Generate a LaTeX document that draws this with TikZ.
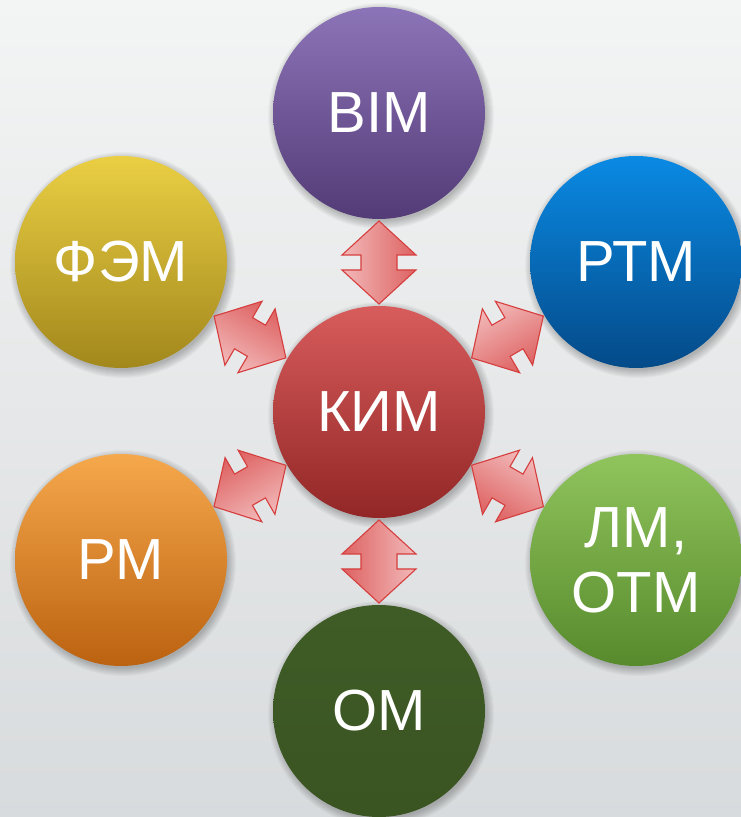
\documentclass[tikz,border=0pt]{standalone}
\usepackage{fontspec}
\setmainfont{Liberation Sans}
\usetikzlibrary{calc}

\definecolor{bgtop}{HTML}{F3F4F4}
\definecolor{bgbot}{HTML}{D8DBDD}
\definecolor{arrowlight}{HTML}{F2B9B9}
\definecolor{arrowdark}{HTML}{DE6262}
\definecolor{arrowline}{HTML}{D63E3E}

\definecolor{bimtop}{HTML}{8C74B8}\definecolor{bimbot}{HTML}{533B77}
\definecolor{femtop}{HTML}{EACF44}\definecolor{fembot}{HTML}{A2871C}
\definecolor{rtmtop}{HTML}{0A8AE4}\definecolor{rtmbot}{HTML}{044A88}
\definecolor{kimtop}{HTML}{D85C5C}\definecolor{kimbot}{HTML}{922626}
\definecolor{rmtop}{HTML}{F6A84C}\definecolor{rmbot}{HTML}{BB6210}
\definecolor{lmtop}{HTML}{90C45C}\definecolor{lmbot}{HTML}{578A2C}
\definecolor{omtop}{HTML}{3F5C26}\definecolor{ombot}{HTML}{3A5422}

\begin{document}
\begin{tikzpicture}[x=1pt,y=1pt,
  model/.style={circle, minimum size=212pt, inner sep=0pt, text=white,
    font=\fontsize{58}{65}\selectfont, align=center},
  link/.style={draw=arrowline, line width=1.1pt, line join=miter,
    top color=arrowlight, bottom color=arrowdark}]

% background
\shade[top color=bgtop, bottom color=bgbot] (0,0) rectangle (741,817);
\useasboundingbox (0,0) rectangle (741,817);

% centres of the models
\coordinate (kimc) at (379,405);
\coordinate (bimc) at (379,704);
\coordinate (omc)  at (379,106);
\coordinate (femc) at (121,555);
\coordinate (rtmc) at (636,555);
\coordinate (rmc)  at (121,257);
\coordinate (lmc)  at (636,257);

% soft shadows under the circles
\foreach \p in {kimc,bimc,omc,femc,rtmc,rmc,lmc}{
  \foreach \d in {1,...,9}{
    \fill[black, opacity=0.028] ([shift={(2,-3)}]\p) circle (104+\d);
  }
}

% models
\node[model, top color=kimtop, bottom color=kimbot] (kim) at (kimc) {КИМ};
\node[model, top color=bimtop, bottom color=bimbot] (bim) at (bimc) {BIM};
\node[model, top color=omtop,  bottom color=ombot]  (om)  at (omc)  {ОМ};
\node[model, top color=femtop, bottom color=fembot] (fem) at (femc) {ФЭМ};
\node[model, top color=rtmtop, bottom color=rtmbot] (rtm) at (rtmc) {РТМ};
\node[model, top color=rmtop,  bottom color=rmbot]  (rm)  at (rmc)  {РМ};
\node[model, top color=lmtop,  bottom color=lmbot]  (lm)  at (lmc)  {ЛМ,\\ОТМ};

% double arrows between the central model and each outer model
\foreach \t in {bim,rtm,lm,om,rm,fem}{
  \pgfmathanglebetweenpoints{\pgfpointanchor{kim}{center}}{\pgfpointanchor{\t}{center}}
  \let\ang\pgfmathresult
  \begin{scope}[shift={($(kim.center)!0.5!(\t.center)$)}, rotate=\ang]
    \path[link, shading angle=\ang]
      (-41.5,0) -- (-7.5,37) -- (-7.5,18) -- (7.5,18) -- (7.5,37) -- (41.5,0)
      -- (7.5,-37) -- (7.5,-18) -- (-7.5,-18) -- (-7.5,-37) -- cycle;
  \end{scope}
}
\end{tikzpicture}
\end{document}
